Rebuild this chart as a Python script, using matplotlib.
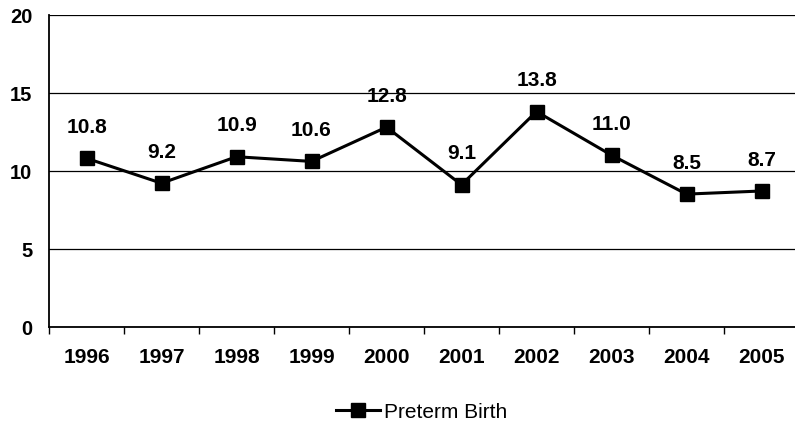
import matplotlib
matplotlib.use("Agg")
import matplotlib.pyplot as plt
import numpy as np

# Dữ liệu
years = ["1996", "1997", "1998", "1999", "2000", "2001", "2002", "2003", "2004", "2005"]
preterm = [10.8, 9.2, 10.9, 10.6, 12.8, 9.1, 13.8, 11.0, 8.5, 8.7]
y_ticks = [0, 5, 10, 15, 20]

plt.rcParams['font.family'] = ['Liberation Sans', 'DejaVu Sans']

fig = plt.figure(figsize=(7.95, 4.27), dpi=100)
ax = fig.add_axes([49 / 795, (427 - 327.5) / 427, 750 / 795, 311.5 / 427])

x = np.arange(len(years))
line, = ax.plot(x, preterm, color='black', lw=2.2, marker='s', markersize=10,
                markerfacecolor='black', markeredgecolor='black', label='Preterm Birth',
                zorder=3)

for xi, v in zip(x, preterm):
    ax.annotate(f"{v:.1f}", xy=(xi, v), xytext=(0, 23), textcoords='offset points',
                ha='center', va='center', fontsize=15, fontweight='bold')

ax.set_xlim(-0.5, len(years) - 0.5)
ax.set_ylim(0, 20)
ax.set_yticks(y_ticks)
ax.set_yticklabels([str(t) for t in y_ticks], fontsize=14.5, fontweight='bold')
ax.tick_params(axis='y', length=0, pad=12)

# vạch chia giữa các năm, nhãn ở giữa
ax.set_xticks(np.arange(len(years) + 1) - 0.5)
ax.set_xticklabels([])
ax.set_xticks(x, minor=True)
ax.set_xticklabels(years, minor=True, fontsize=15, fontweight='bold')
ax.tick_params(axis='x', which='major', length=5, width=1, direction='out')
ax.tick_params(axis='x', which='minor', length=0, pad=15)

ax.grid(axis='y', color='black', lw=0.9)
ax.set_axisbelow(True)
for s in ['top', 'right']:
    ax.spines[s].set_visible(False)
ax.spines['left'].set_linewidth(1.3)
ax.spines['bottom'].set_linewidth(1.3)

fig.legend(handles=[line], loc='center', bbox_to_anchor=(422 / 795, (427 - 413) / 427),
           frameon=False, fontsize=15, handlelength=2.1, handletextpad=0.2)

fig.savefig("out.png", dpi=100)
